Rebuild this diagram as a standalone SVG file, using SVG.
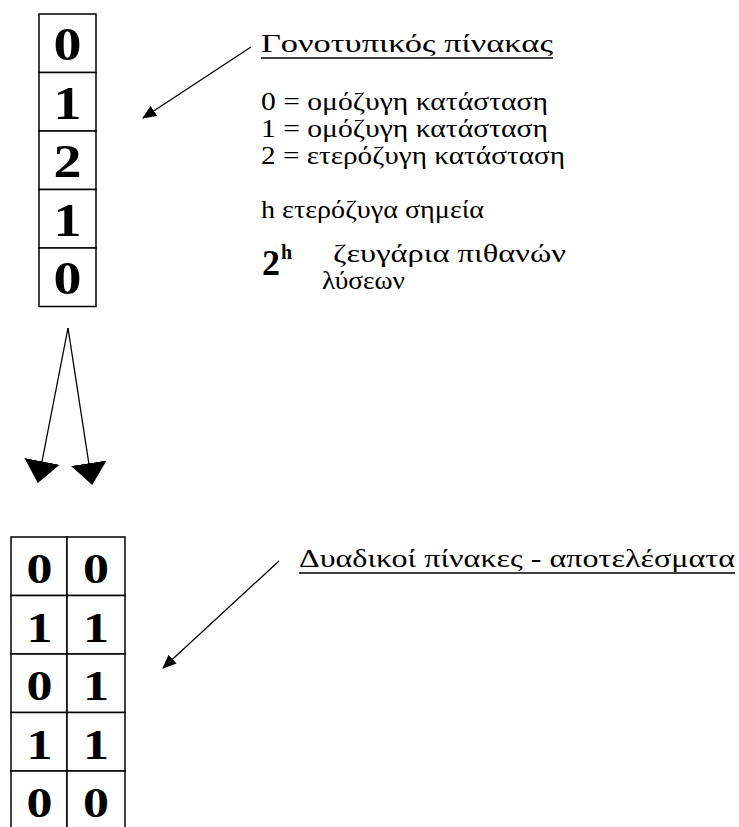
<svg xmlns="http://www.w3.org/2000/svg" width="739" height="827" viewBox="0 0 739 827">
<style>
.cell{fill:#fff;stroke:#000;stroke-width:1.5}
.dig{font-family:"Liberation Serif","Times New Roman","DejaVu Serif",serif;font-weight:bold;font-size:47px;text-anchor:middle;fill:#000}
.dig2{font-family:"Liberation Serif","Times New Roman","DejaVu Serif",serif;font-weight:bold;font-size:43px;text-anchor:middle;fill:#000}
.txt{font-family:"Liberation Serif","Times New Roman","DejaVu Serif",serif;font-size:25px;fill:#000}
.sup{font-family:"Liberation Serif","Times New Roman","DejaVu Serif",serif;font-weight:bold;fill:#000}
.ul{stroke:#000;stroke-width:1.5}
.conn{stroke:#000;stroke-width:1.3;fill:none}
</style>
<defs>
<marker id="ah" viewBox="0 0 14 12" refX="13" refY="6" markerWidth="14" markerHeight="12" markerUnits="userSpaceOnUse" orient="auto">
<path d="M0,0 L14,6 L0,12 z" fill="#000"/>
</marker>
<marker id="ahBig" viewBox="0 0 22 36" refX="21" refY="18" markerWidth="22" markerHeight="36" markerUnits="userSpaceOnUse" orient="auto">
<path d="M0,0 L22,18 L0,36 z" fill="#000"/>
</marker>
</defs>
<rect width="739" height="827" fill="#fff"/>

<g id="genotype-table">
<rect class="cell" x="39" y="14" width="57" height="58.5"/>
<rect class="cell" x="39" y="72.5" width="57" height="58.5"/>
<rect class="cell" x="39" y="131" width="57" height="58.5"/>
<rect class="cell" x="39" y="189.5" width="57" height="58.5"/>
<rect class="cell" x="39" y="248" width="57" height="58.5"/>
<text class="dig" x="67.5" y="60" textLength="28" lengthAdjust="spacingAndGlyphs">0</text>
<text class="dig" x="67.5" y="118.5" textLength="28" lengthAdjust="spacingAndGlyphs">1</text>
<text class="dig" x="67.5" y="177" textLength="28" lengthAdjust="spacingAndGlyphs">2</text>
<text class="dig" x="67.5" y="235.5" textLength="28" lengthAdjust="spacingAndGlyphs">1</text>
<text class="dig" x="67.5" y="294" textLength="28" lengthAdjust="spacingAndGlyphs">0</text>
</g>

<g id="genotype-label">
<text class="txt" x="261" y="52" font-size="28" textLength="292" lengthAdjust="spacingAndGlyphs">Γονοτυπικός πίνακας</text>
<line class="ul" x1="261" y1="58" x2="553" y2="58"/>
<text class="txt" x="261" y="110" textLength="287" lengthAdjust="spacingAndGlyphs">0 = ομόζυγη κατάσταση</text>
<text class="txt" x="261" y="137" textLength="287" lengthAdjust="spacingAndGlyphs">1 = ομόζυγη κατάσταση</text>
<text class="txt" x="261" y="164" textLength="304" lengthAdjust="spacingAndGlyphs">2 = ετερόζυγη κατάσταση</text>
<text class="txt" x="261" y="218" textLength="223" lengthAdjust="spacingAndGlyphs">h ετερόζυγα σημεία</text>
<text class="sup" x="262" y="275" font-size="36">2</text>
<text class="sup" x="281" y="259" font-size="20">h</text>
<text class="txt" x="333" y="262" textLength="233" lengthAdjust="spacingAndGlyphs">ζευγάρια πιθανών</text>
<text class="txt" x="322" y="289" textLength="83" lengthAdjust="spacingAndGlyphs">λύσεων</text>
</g>

<g id="binary-table">
<rect class="cell" x="11" y="537" width="56" height="58.5"/>
<rect class="cell" x="67" y="537" width="58" height="58.5"/>
<rect class="cell" x="11" y="595.5" width="56" height="58.5"/>
<rect class="cell" x="67" y="595.5" width="58" height="58.5"/>
<rect class="cell" x="11" y="654" width="56" height="58.5"/>
<rect class="cell" x="67" y="654" width="58" height="58.5"/>
<rect class="cell" x="11" y="712.5" width="56" height="58.5"/>
<rect class="cell" x="67" y="712.5" width="58" height="58.5"/>
<rect class="cell" x="11" y="771" width="56" height="58.5"/>
<rect class="cell" x="67" y="771" width="58" height="58.5"/>
<text class="dig2" x="39.5" y="583" textLength="26" lengthAdjust="spacingAndGlyphs">0</text>
<text class="dig2" x="96" y="583" textLength="26" lengthAdjust="spacingAndGlyphs">0</text>
<text class="dig2" x="39.5" y="641.5" textLength="26" lengthAdjust="spacingAndGlyphs">1</text>
<text class="dig2" x="96" y="641.5" textLength="26" lengthAdjust="spacingAndGlyphs">1</text>
<text class="dig2" x="39.5" y="700" textLength="26" lengthAdjust="spacingAndGlyphs">0</text>
<text class="dig2" x="96" y="700" textLength="26" lengthAdjust="spacingAndGlyphs">1</text>
<text class="dig2" x="39.5" y="758.5" textLength="26" lengthAdjust="spacingAndGlyphs">1</text>
<text class="dig2" x="96" y="758.5" textLength="26" lengthAdjust="spacingAndGlyphs">1</text>
<text class="dig2" x="39.5" y="817" textLength="26" lengthAdjust="spacingAndGlyphs">0</text>
<text class="dig2" x="96" y="817" textLength="26" lengthAdjust="spacingAndGlyphs">0</text>
</g>

<g id="binary-label">
<text class="txt" x="299" y="567" font-size="28" textLength="436" lengthAdjust="spacingAndGlyphs">Δυαδικοί πίνακες - αποτελέσματα</text>
<line class="ul" x1="299" y1="573" x2="735" y2="573"/>
</g>

<g id="connectors">
<line class="conn" x1="251" y1="47" x2="143" y2="118" marker-end="url(#ah)"/>
<line class="conn" x1="68" y1="328" x2="38" y2="482" marker-end="url(#ahBig)"/>
<line class="conn" x1="68" y1="328" x2="92" y2="484" marker-end="url(#ahBig)"/>
<line class="conn" x1="279" y1="561" x2="163" y2="668" marker-end="url(#ah)"/>
</g>
</svg>
